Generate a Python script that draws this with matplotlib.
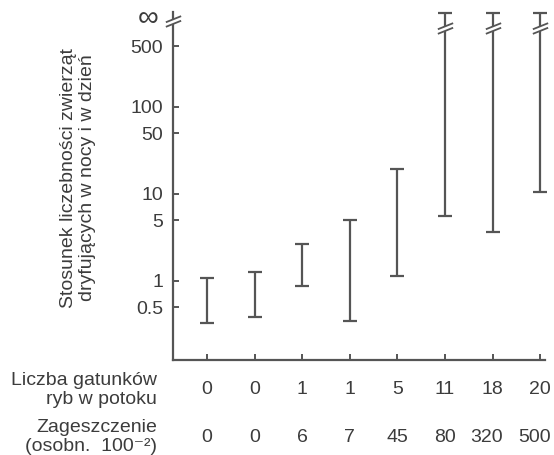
import matplotlib
matplotlib.use("Agg")
from matplotlib import pyplot as plt
from matplotlib.path import Path
from matplotlib import transforms
import numpy as np

plt.rcParams['font.family'] = ['Liberation Sans', 'DejaVu Sans']

# data
species = ["0", "0", "1", "1", "5", "11", "18", "20"]
density = ["0", "0", "6", "7", "45", "80", "320", "500"]
low = [0.33, 0.385, 0.88, 0.35, 1.15, 5.6, 3.7, 10.4]
high = [1.09, 1.27, 2.64, 5.0, 19.5, np.inf, np.inf, np.inf]
ytick_vals = [0.5, 1, 5, 10, 50, 100, 500]
ytick_labels = ["0.5", "1", "5", "10", "50", "100", "500"]

INF_POS = 1200      # where "infinity" sits on the log axis
BAR_BREAK = 800     # break mark on the open bars
AXIS_BREAK = 960    # break mark on the y axis

ink = "#3c3c3c"
line = "#555555"

fig = plt.figure(figsize=(5.54, 4.55), dpi=100)
ax = fig.add_axes([173 / 554, 1 - 360 / 455, (545 - 173) / 554, (360 - 10) / 455])
ax.set_yscale("log")
ax.set_ylim(0.1236, 1300)
ax.set_xlim(-0.714, 7.1)

x = np.arange(len(species))
top = np.array([INF_POS if np.isinf(h) else h for h in high])
bot = np.array(low)
mid = np.sqrt(top * bot)
ax.errorbar(x, mid, yerr=[mid - bot, top - mid], fmt="none", ecolor=line,
            elinewidth=1.6, capsize=5, capthick=1.6, clip_on=False)

# break marks "//"
brk = Path([(-1, -0.7), (1, 0.1), (-1, -0.1), (1, 0.7)],
           [Path.MOVETO, Path.LINETO, Path.MOVETO, Path.LINETO])
gap = Path([(-1, -0.4), (1, 0.4)], [Path.MOVETO, Path.LINETO])
open_x = [xi for xi, h in zip(x, high) if np.isinf(h)]
for xs, yv in [(open_x, BAR_BREAK), ([-0.714], AXIS_BREAK)]:
    ys = [yv] * len(xs)
    ax.plot(xs, ys, ls="none", marker=gap, markersize=11, markeredgecolor="white",
            markeredgewidth=3, clip_on=False, zorder=5)
    ax.plot(xs, ys, ls="none", marker=brk, markersize=11, markeredgecolor=line,
            markeredgewidth=1.3, clip_on=False, zorder=6)

for s in ["top", "right"]:
    ax.spines[s].set_visible(False)
for s in ["left", "bottom"]:
    ax.spines[s].set_color(line)
    ax.spines[s].set_linewidth(1.6)
ax.spines["left"].set_bounds(0.1236, 1230)

ax.set_yticks(ytick_vals)
ax.set_yticklabels(ytick_labels)
ax.minorticks_off()
ax.set_xticks(x)
ax.set_xticklabels([])
ax.tick_params(axis="both", direction="in", length=4, width=1.4, color=line,
               labelsize=14, labelcolor=ink, pad=7)

trans = transforms.blended_transform_factory(ax.transAxes, ax.transData)
ax.text(-0.068, 1050, "\u221e", transform=trans, ha="center", va="center",
        fontsize=21, color=ink)

fig.text(0.141, 1 - 178 / 455, "Stosunek liczebności zwierząt\ndryfujących w nocy i w dzień",
         rotation=90, ha="center", va="center", fontsize=14, color=ink,
         linespacing=1.15, multialignment="center")

bt = transforms.blended_transform_factory(ax.transData, fig.transFigure)
lab_x = 157 / 554
fig.text(lab_x, 1 - 390 / 455, "Liczba gatunków\nryb w potoku", ha="right",
         va="center", fontsize=14, color=ink, linespacing=1.12,
         multialignment="right")
fig.text(lab_x, 1 - 437 / 455, "Zageszczenie\n(osobn.  100\u207b\u00b2)", ha="right",
         va="center", fontsize=14, color=ink, linespacing=1.12,
         multialignment="right")
nudge = transforms.ScaledTranslation(-6 / 100, 0, fig.dpi_scale_trans)
for xi, s, d in zip(x, species, density):
    ax.text(xi, 1 - 389 / 455, s, transform=bt, ha="center", va="center",
            fontsize=14, color=ink)
    t = bt + nudge if len(d) > 2 else bt
    ax.text(xi, 1 - 438 / 455, d, transform=t, ha="center", va="center",
            fontsize=14, color=ink)

fig.savefig("out.png", dpi=100)
